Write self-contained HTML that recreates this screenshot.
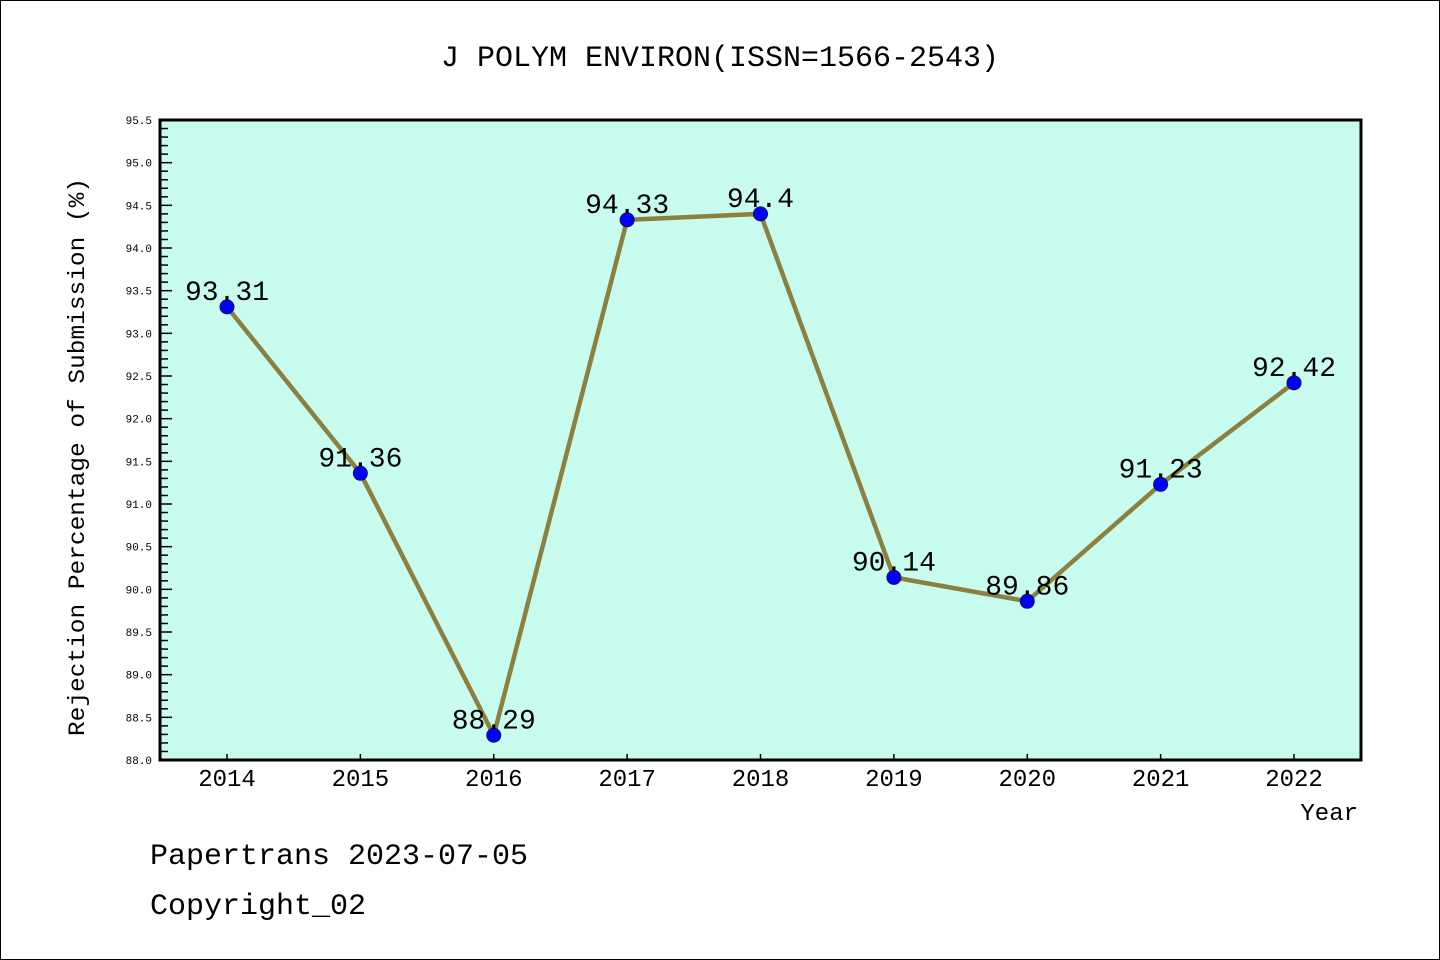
<!DOCTYPE html>
<html><head><meta charset="utf-8"><style>
body{margin:0;background:#fff}
svg{display:block}
text{font-family:"Liberation Mono","DejaVu Sans Mono",monospace}
</style></head><body>
<svg id="c" width="1440" height="960" xmlns="http://www.w3.org/2000/svg">
<rect x="0.5" y="0.5" width="1439" height="959" fill="#fff" stroke="#000"/>
<text x="720" y="66" text-anchor="middle" font-size="30">J POLYM ENVIRON(ISSN=1566-2543)</text>
<rect x="160" y="120" width="1201" height="640" fill="#c8fcee"/>
<g id="ticks"></g>
<g id="series"></g>
<rect x="160" y="120" width="1201" height="640" fill="none" stroke="#000" stroke-width="3"/>
<text transform="translate(84,457) rotate(-90)" text-anchor="middle" font-size="23" textLength="558" lengthAdjust="spacingAndGlyphs">Rejection Percentage of Submission (%)</text>
<text x="1358" y="820" text-anchor="end" font-size="24">Year</text>
<text x="150" y="864" font-size="30">Papertrans 2023-07-05</text>
<text x="150" y="914" font-size="30">Copyright_02</text>
</svg>
<script>
const years=["2014","2015","2016","2017","2018","2019","2020","2021","2022"];
const values=[93.31,91.36,88.29,94.33,94.4,90.14,89.86,91.23,92.42];
const valueLabels=["93.31","91.36","88.29","94.33","94.4","90.14","89.86","91.23","92.42"];
const yMin=88.0,yMax=95.5;
const NS="http://www.w3.org/2000/svg";
function X(i){return 227+i*(1294-227)/(years.length-1);}
function Y(v){return 760-(v-yMin)*(640/(yMax-yMin));}
function mk(t,a,p){const e=document.createElementNS(NS,t);for(const k in a)e.setAttribute(k,a[k]);p.appendChild(e);return e;}
const tg=document.getElementById('ticks'),sg=document.getElementById('series');
for(let k=0;k<=75;k++){
  const v=yMin+k*0.1,y=Y(v),major=k%5===0;
  const l=mk('line',{x1:160,x2:160+(major?12:8),y1:y,y2:y,stroke:'#000','stroke-width':1.5},tg);
  
  
  if(major){const t=mk('text',{x:152,y:y+4,'text-anchor':'end','font-size':11},tg);t.textContent=v.toFixed(1);
  
  }
}
years.forEach((yr,i)=>{
  const l=mk('line',{x1:X(i),x2:X(i),y1:760,y2:754,stroke:'#000','stroke-width':1.5},tg);
  
  
  const t=mk('text',{x:X(i),y:786,'text-anchor':'middle','font-size':24},tg);t.textContent=yr;
  
  
});
const pl=mk('polyline',{points:values.map((v,i)=>X(i)+','+Y(v)).join(' '),fill:'none',stroke:'#8c8040','stroke-width':4.5},sg);


values.forEach((v,i)=>{
  const c=mk('circle',{cx:X(i),cy:Y(v),r:7,fill:'#0000ff',stroke:'#101060','stroke-width':1},sg);
  
  
  const t=mk('text',{x:X(i),y:Y(v)-7,'text-anchor':'middle','font-size':28},sg);t.textContent=valueLabels[i];
  
  
});
</script>
</body></html>
